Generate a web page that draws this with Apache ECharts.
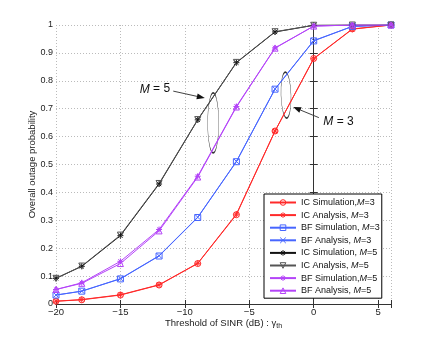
<!DOCTYPE html>
<html><head><meta charset="utf-8">
<script src="https://cdn.jsdelivr.net/npm/echarts@6/dist/echarts.min.js"></script>
<style>html,body{margin:0;padding:0;background:#fff}#c{width:432px;height:343px}</style>
</head><body><div id="c"></div>
<script>
const xs = [-20, -18, -15, -12, -9, -6, -3, 0, 3, 6];
const icSim3 = [0.010, 0.015, 0.032, 0.068, 0.145, 0.32, 0.62, 0.88, 0.986, 1.0];
const icAna3 = [0.010, 0.016, 0.033, 0.069, 0.146, 0.322, 0.62, 0.879, 0.985, 1.0];
const bfSim3 = [0.032, 0.046, 0.090, 0.172, 0.310, 0.510, 0.770, 0.943, 0.995, 1.0];
const bfAna3 = [0.032, 0.046, 0.091, 0.173, 0.311, 0.511, 0.771, 0.944, 0.995, 1.0];
const icSim5 = [0.092, 0.135, 0.245, 0.430, 0.660, 0.865, 0.975, 0.999, 1.0, 1.0];
const icAna5 = [0.092, 0.136, 0.247, 0.432, 0.661, 0.866, 0.976, 0.999, 1.0, 1.0];
const bfSim5 = [0.052, 0.076, 0.153, 0.267, 0.458, 0.708, 0.918, 0.996, 1.0, 1.0];
const bfAna5 = [0.052, 0.074, 0.145, 0.262, 0.455, 0.706, 0.917, 0.996, 1.0, 1.0];
const names = ['IC Simulation,M=3','IC Analysis, M=3','BF Simulation, M=3','BF Analysis, M=3',
               'IC Simulation, M=5','IC Analysis, M=5','BF Simulation,M=5','BF Analysis, M=5'];
const xTicks = [-20, -15, -10, -5, 0, 5];
const yTicks = [0,0.1,0.2,0.3,0.4,0.5,0.6,0.7,0.8,0.9,1];

const RED='#ff2a2a', BLUE='#4766ff', BLACK='#111', GREY='#555', PURPLE='#b444f8';
const STAR='path://M5,0L5,10M0,5L10,5M1.5,1.5L8.5,8.5M1.5,8.5L8.5,1.5';
const XMARK='path://M0,0L10,10M0,10L10,0';
const DTRI='path://M0,0L10,0L5,9Z';
const UTRI='path://M5,0L10,9L0,9Z';
const colors = [RED, RED, BLUE, BLUE, BLACK, GREY, PURPLE, PURPLE];
const symbols = ['circle', STAR, 'rect', XMARK, STAR, DTRI, STAR, UTRI];
const sizes = [6, 6, 6, 5, 6, 6, 6, 6];
const values = [icSim3, icAna3, bfSim3, bfAna3, icSim5, icAna5, bfSim5, bfAna5];

const series = names.map((name, k) => ({
  name, type:'line', data: xs.map((x,i)=>[x, values[k][i]]),
  symbol: symbols[k], symbolSize: sizes[k], showSymbol:true,
  lineStyle:{color:colors[k], width:1},
  itemStyle:{color:'rgba(0,0,0,0)', borderColor:colors[k], borderWidth:1},
  emphasis:{disabled:true}, animation:false
}));

const chart = echarts.init(document.getElementById('c'), null, {renderer:'canvas'});
const FONT = 'Liberation Sans, Arial, sans-serif';
const axisCommon = {
  axisLine:{show:true, lineStyle:{color:'#333', width:1}},
  axisTick:{show:true, inside:true, length:4, lineStyle:{color:'#333'}},
  splitLine:{show:false}
};
chart.setOption({
  animation:false,
  backgroundColor:'#fff',
  grid:{left:56, right:41, top:25, bottom:39, containLabel:false},
  xAxis:[
    Object.assign({type:'value', min:-20, max:6, interval:5, position:'bottom',
      name:'{a|Threshold of SINR (dB) : γ}{s|th}', nameLocation:'middle', nameGap:13, nameMoveOverlap:false,
      nameTextStyle:{rich:{a:{fontFamily:FONT,fontSize:9.5,color:'#222'}, s:{fontFamily:FONT,fontSize:7,color:'#222',padding:[6,0,0,0]}}},
      axisLabel:{fontFamily:FONT, fontSize:9.5, color:'#222', margin:3, customValues: xTicks,
        formatter:v=> String(v).replace('-', '\u2212')},
      splitLine:{show:true, lineStyle:{color:'#bbb', type:[1,2], width:1}}
    }, {axisLine:axisCommon.axisLine, axisTick:axisCommon.axisTick}),
    Object.assign({type:'value', min:-20, max:6, interval:5, position:'top',
      axisLabel:{show:false}}, axisCommon)
  ],
  yAxis:[
    Object.assign({type:'value', min:0, max:1, interval:0.1, position:'left',
      name:'Overall outage probability', nameLocation:'middle', nameGap:19, nameMoveOverlap:false,
      nameTextStyle:{fontFamily:FONT, fontSize:9.5, color:'#222'},
      axisLabel:{fontFamily:FONT, fontSize:9, color:'#222', margin:3, customValues: yTicks,
        formatter:v=> String(Math.round(v*10)/10)},
      splitLine:{show:true, lineStyle:{color:'#bbb', type:[1,2], width:1}}
    }, {axisLine:axisCommon.axisLine, axisTick:axisCommon.axisTick}),
    Object.assign({type:'value', min:0, max:1, interval:0.1, position:'right',
      axisLabel:{show:false}}, axisCommon)
  ],
  legend:{
    orient:'vertical', left:264, top:194, itemWidth:26, itemHeight:7, itemGap:3.6,
    padding:[4,2,3,5], backgroundColor:'#fff', borderColor:'#000', borderWidth:1, borderRadius:0,
    selectedMode:false,
    textStyle:{fontFamily:FONT, fontSize:9, color:'#111',
      rich:{t:{fontFamily:FONT,fontSize:9,color:'#111'}, m:{fontFamily:FONT,fontSize:9,color:'#111',fontStyle:'italic'}}},
    formatter: n => { const i=n.indexOf('M='); return '{t|'+n.slice(0,i)+'}{m|M}{t|'+n.slice(i+1)+'}'; },
    data: names.map((n,k)=>({name:n, itemStyle:{color:'rgba(0,0,0,0)', borderColor:colors[k], borderWidth:1}}))
  },
  series
});

// annotations, anchored in data coordinates
const ann = {
  ell5:[-7.8, 0.649], txt5:[-13.5, 0.77], arr5:[[-10.9,0.763],[-8.45,0.738]],
  ell3:[-2.15, 0.749], txt3:[0.75, 0.655], arr3:[[0.40,0.668],[-1.6,0.706]]
};
const P = p => chart.convertToPixel({xAxisIndex:0, yAxisIndex:0}, p);
function arrow(a,b){
  const p1=P(a), p2=P(b);
  const dx=p2[0]-p1[0], dy=p2[1]-p1[1], L=Math.hypot(dx,dy), ux=dx/L, uy=dy/L;
  const hl=8, hw=3;
  const bx=p2[0]-ux*hl, by=p2[1]-uy*hl;
  return [
    {type:'line', shape:{x1:p1[0],y1:p1[1],x2:bx,y2:by}, style:{stroke:'#111',lineWidth:0.8}},
    {type:'polygon', shape:{points:[[p2[0],p2[1]],[bx-uy*hw,by+ux*hw],[bx+uy*hw,by-ux*hw]]}, style:{fill:'#111'}}
  ];
}
function ell(c, rx, ry, rot){
  const p=P(c);
  return {type:'circle', x:p[0], y:p[1], scaleX:rx, scaleY:ry, rotation:rot||0, shape:{cx:0,cy:0,r:1},
    style:{fill:'none', stroke:'#333', lineWidth:0.8, strokeNoScale:true}};
}
function label(c, num){
  const p=P(c);
  return {type:'text', x:p[0], y:p[1], style:{text:'{m|M} = '+num, verticalAlign:'middle',
    fontFamily:FONT, fontSize:12, fill:'#111',
    rich:{m:{fontFamily:FONT,fontSize:12,fontStyle:'italic',fill:'#111'}}}};
}
const g = [ell(ann.ell5,5.5,30,0), label(ann.txt5,5), ...arrow(...ann.arr5),
           ell(ann.ell3,5,23,0.03), label(ann.txt3,3), ...arrow(...ann.arr3)];
chart.setOption({graphic:g});
</script></body></html>
